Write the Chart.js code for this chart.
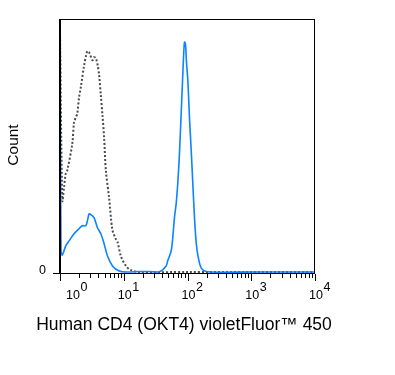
<!DOCTYPE html>
<html>
<head>
<meta charset="utf-8">
<script src="https://cdn.jsdelivr.net/npm/chart.js@4/dist/chart.umd.min.js"></script>
<style>
  html, body { margin: 0; padding: 0; background: #fff; }
  #wrap { width: 395px; height: 375px; }
</style>
</head>
<body>
<div id="wrap"><canvas id="histo" width="395" height="375"></canvas></div>
<script>
// fluorescence intensity (x) and count (y, % of max)
const controlX = [1, 1.087, 1.156, 1.23, 1.30, 1.56, 1.66, 1.77, 1.87, 1.99, 2.12, 2.39, 2.57, 2.69, 2.86,
  3.23, 3.43, 3.65, 3.90, 4.11, 4.37, 4.64, 4.93, 5.24, 5.91, 6.59, 7.35, 7.99, 9.03, 10.8, 12.7, 17.5,
  100, 1000, 10000];
const controlY = [95, 28.2, 33.3, 38.9, 40.1, 50.8, 59.1, 61.1, 62.7, 69.0, 73.0, 81.7, 85.7, 87.3, 86.9,
  83.7, 84.9, 84.5, 81.7, 77.8, 69.8, 61.9, 52.8, 40.1, 29.0, 17.0, 13.5, 11.8, 6.2, 2.4, 0.8, 0,
  0, 0, 0];

const cd4X = [1, 1.037, 1.087, 1.23, 1.39, 1.66, 1.99, 2.24, 2.54, 2.71, 2.86, 3.08, 3.43, 3.87, 4.37,
  4.93, 5.56, 6.66, 8.49, 11.4, 17.5, 25.2, 36.2, 46.2, 48.9, 55.4, 58.7, 62.4, 66.4, 70.3, 74.8, 79.0,
  83.4, 86.5, 89.7, 93.0, 96.4, 101.2, 107.5, 114.4, 121.2, 128.8, 137.0, 146.3, 164.3, 206.5, 1000, 10000];
const cd4Y = [95, 8.3, 6.7, 10.3, 12.3, 15.1, 17.1, 18.3, 18.3, 20.6, 23.0, 22.6, 21.4, 17.5, 15.1,
  11.1, 6.3, 2.4, 0.4, 0, 0.2, 0.2, 0.1, 2.4, 4.4, 8.3, 13.5, 21.4, 27.0, 34.9, 46.8, 60.7,
  75.0, 84.5, 90.9, 90.1, 82.9, 75.8, 60.7, 48.0, 34.9, 21.4, 11.5, 6.3, 1.6, 0.1, 0, 0];

const decadeTicks = [1, 10, 100, 1000, 10000];
const decadeExps = ['0', '1', '2', '3', '4'];
const minorTicks = [2, 3, 4, 5, 6, 7, 8, 9, 20, 30, 40, 50, 60, 70, 80, 90,
  200, 300, 400, 500, 600, 700, 800, 900, 2000, 3000, 4000, 5000, 6000, 7000, 8000, 9000];

const FONT = 'Arial, "Liberation Sans", sans-serif';

function toPoints(xs, ys) {
  return xs.map((x, i) => ({ x, y: ys[i] }));
}

// frame, ticks and labels drawn by hand so they sit like the cytometry export
const axesPlugin = {
  id: 'flowAxes',
  afterDatasetsDraw(chart) {
    const { ctx, chartArea: a, scales } = chart;
    const xs = scales.x;
    ctx.save();

    // box
    ctx.strokeStyle = '#000';
    ctx.lineWidth = 1;
    ctx.strokeRect(a.left + 0.5, a.top + 0.5, a.right - a.left - 1, a.bottom - a.top - 1);
    ctx.lineWidth = 2;
    ctx.beginPath();
    ctx.moveTo(a.left, a.top);
    ctx.lineTo(a.left, a.bottom);
    ctx.stroke();

    // x ticks
    ctx.lineWidth = 1;
    ctx.beginPath();
    decadeTicks.forEach(v => {
      const px = Math.round(xs.getPixelForValue(v)) + 0.5;
      ctx.moveTo(px, a.bottom);
      ctx.lineTo(px, a.bottom + 7);
    });
    minorTicks.forEach(v => {
      const px = Math.round(xs.getPixelForValue(v)) + 0.5;
      ctx.moveTo(px, a.bottom);
      ctx.lineTo(px, a.bottom + 4);
    });
    // y tick at zero
    ctx.moveTo(a.left - 7, a.bottom - 0.5);
    ctx.lineTo(a.left, a.bottom - 0.5);
    ctx.stroke();

    // x tick labels 10^n
    ctx.fillStyle = '#000';
    ctx.textBaseline = 'alphabetic';
    decadeTicks.forEach((v, i) => {
      const px = xs.getPixelForValue(v);
      const base = i === 0 ? px + 6 : px - 6;
      ctx.font = '12.5px ' + FONT;
      ctx.textAlign = 'left';
      ctx.fillText('10', base, a.bottom + 25);
      const w = ctx.measureText('10').width;
      ctx.fillText(decadeExps[i], base + w + 0.5, a.bottom + 17);
    });

    // y label
    ctx.font = '12.5px ' + FONT;
    ctx.textAlign = 'right';
    ctx.textBaseline = 'middle';
    ctx.fillText('0', a.left - 14, a.bottom - 3);

    // axis titles
    ctx.font = '17.5px ' + FONT;
    ctx.textAlign = 'center';
    ctx.textBaseline = 'alphabetic';
    ctx.fillText('Human CD4 (OKT4) violetFluor\u2122 450', 184, 330);

    ctx.translate(18, 145);
    ctx.rotate(-Math.PI / 2);
    ctx.font = '15.5px ' + FONT;
    ctx.textBaseline = 'alphabetic';
    ctx.fillText('Count', 0, 0);
    ctx.restore();
  }
};

new Chart(document.getElementById('histo'), {
  type: 'line',
  data: {
    datasets: [
      {
        label: 'CD4',
        data: toPoints(cd4X, cd4Y),
        borderColor: '#0a84ff',
        borderWidth: 1.6,
        pointRadius: 0,
        tension: 0.3,
        fill: false
      },
      {
        label: 'Control',
        data: toPoints(controlX, controlY),
        borderColor: '#4a4a4a',
        borderWidth: 2,
        borderDash: [2, 2],
        pointRadius: 0,
        tension: 0.3,
        fill: false
      }
    ]
  },
  options: {
    responsive: false,
    animation: false,
    devicePixelRatio: 1,
    layout: { padding: { left: 60, right: 80, top: 19, bottom: 101 } },
    plugins: {
      legend: { display: false },
      tooltip: { enabled: false }
    },
    scales: {
      x: { type: 'logarithmic', min: 1, max: 10000, display: false },
      y: { type: 'linear', min: -0.8, max: 100, display: false }
    }
  },
  plugins: [axesPlugin]
});
</script>
</body>
</html>
